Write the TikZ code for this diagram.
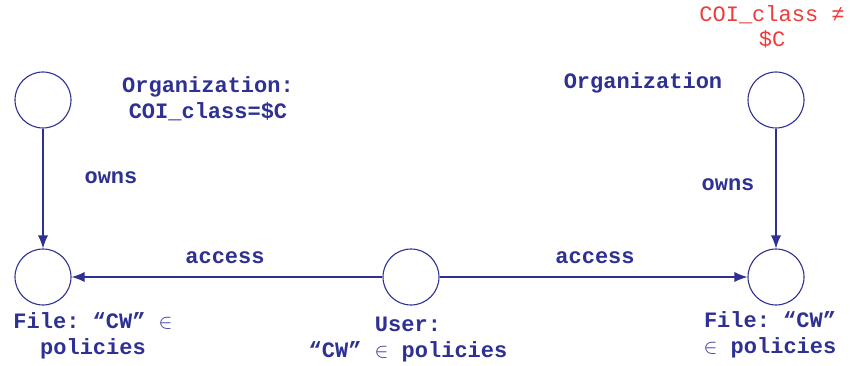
\documentclass[tikz,border=0pt]{standalone}
\usepackage{fontspec}
\setmonofont{Liberation Mono}
\usepackage{xcolor}
\usetikzlibrary{arrows.meta, positioning}
\definecolor{cwblue}{HTML}{2E3192}
\definecolor{cwred}{HTML}{EE3B3B}

\begin{document}
\begin{tikzpicture}[
  x=1pt, y=-1pt,
  entity/.style={circle, draw=cwblue, line width=1.1pt, minimum size=56pt, inner sep=0pt},
  lbl/.style={text=cwblue, font=\fontsize{22}{26}\selectfont\ttfamily\bfseries, align=center, inner sep=0pt},
  warn/.style={text=cwred, font=\fontsize{22}{25}\selectfont\ttfamily, align=center, inner sep=0pt},
  arrow/.style={-{Latex[length=13pt, width=10pt]}, draw=cwblue, line width=1.1pt}
]
\useasboundingbox (0,0) rectangle (850,366);
\node[entity] (orgA) at (43,100) {};
\node[entity] (fileA) at (43,277) {};
\node[entity] (user) at (411,277) {};
\node[entity] (fileB) at (776,277) {};
\node[entity] (orgB) at (776,100) {};

\node[lbl] (orgAlbl) at (208,99) {Organization:\\COI\_class=\$C};
\node[lbl] (orgBlbl) at (643,83) {Organization};
\node[warn] (coi) at (772,27) {COI\_class ≠\\\$C};
\node[lbl] (ownsA) at (111,178) {owns};
\node[lbl] (ownsB) at (728,185) {owns};
\node[lbl] (accA) at (225,258) {access};
\node[lbl] (accB) at (595,258) {access};
\node[lbl] (fileAlbl) at (93,336) {File: “CW” $\in$\\policies};
\node[lbl] (userlbl) at (408,340) {User:\\“CW” $\in$ policies};
\node[lbl] (fileBlbl) at (770,335) {File: “CW”\\$\in$ policies};

\draw[arrow] (orgA) -- (fileA);
\draw[arrow] (orgB) -- (fileB);
\draw[arrow] (user) -- (fileA);
\draw[arrow] (user) -- (fileB);
\end{tikzpicture}
\end{document}
